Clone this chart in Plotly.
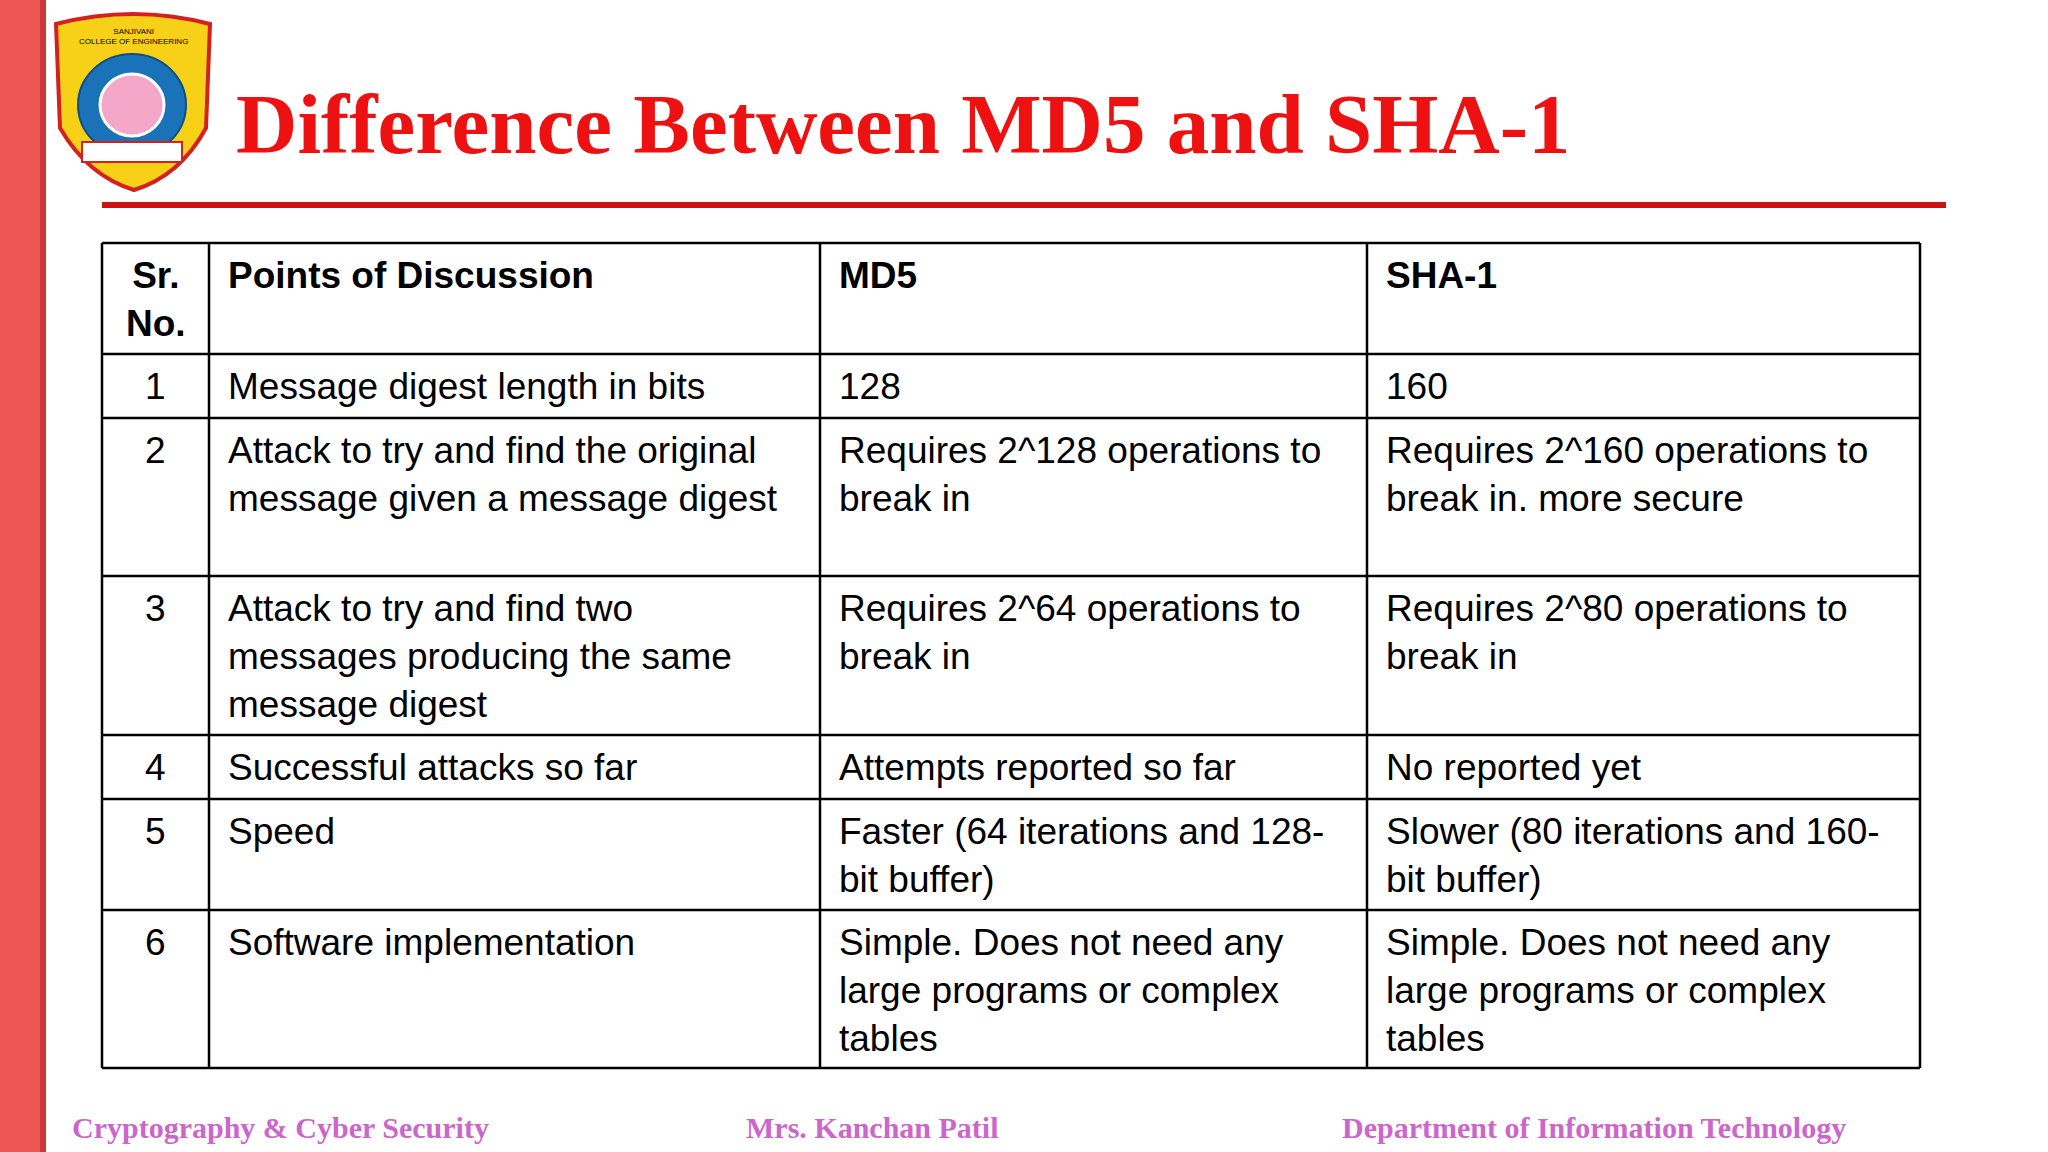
import plotly.graph_objects as go

# table content
headers = ["Sr.<br>No.", "Points of Discussion", "MD5", "SHA-1"]
sr_no = ["1", "2", "3", "4", "5", "6"]
points = [
    "Message digest length in bits",
    "Attack to try and find the original<br>message given a message digest",
    "Attack to try and find two<br>messages producing the same<br>message digest",
    "Successful attacks so far",
    "Speed",
    "Software implementation",
]
md5 = [
    "128",
    "Requires 2^128 operations to<br>break in",
    "Requires 2^64 operations to<br>break in",
    "Attempts reported so far",
    "Faster (64 iterations and 128-<br>bit buffer)",
    "Simple. Does not need any<br>large programs or complex<br>tables",
]
sha1 = [
    "160",
    "Requires 2^160 operations to<br>break in. more secure",
    "Requires 2^80 operations to<br>break in",
    "No reported yet",
    "Slower (80 iterations and 160-<br>bit buffer)",
    "Simple. Does not need any<br>large programs or complex<br>tables",
]
footer = ["Cryptography & Cyber Security", "Mrs. Kanchan Patil", "Department of Information Technology"]

# layout geometry (pixels)
col_x = [102, 209, 820, 1367, 1920]
row_y = [243, 354, 418, 576, 735, 799, 910, 1068]

fig = go.Figure()
shapes = []
ann = []

# left red bar
shapes.append(dict(type="rect", x0=0, x1=46, y0=0, y1=1152, fillcolor="#f05555", line_width=0, layer="below"))
shapes.append(dict(type="rect", x0=40, x1=46, y0=0, y1=1152, fillcolor="#c83a3a", line_width=0, layer="below"))

# logo (simplified shield)
shapes.append(dict(type="path", path="M 56 24 Q 133 4 210 24 L 206 128 Q 180 176 134 190 Q 88 176 60 128 Z",
                   fillcolor="#f7d117", line=dict(color="#d42020", width=4)))
shapes.append(dict(type="circle", x0=78, x1=186, y0=54, y1=156, fillcolor="#1a73b8", line=dict(color="#0d4f87", width=2)))
shapes.append(dict(type="circle", x0=100, x1=164, y0=74, y1=136, fillcolor="#f4a7c9", line=dict(color="#ffffff", width=3)))
shapes.append(dict(type="rect", x0=82, x1=182, y0=142, y1=162, fillcolor="#ffffff", line=dict(color="#d42020", width=2)))
ann.append(dict(x=133, y=36, text="SANJIVANI<br>COLLEGE OF ENGINEERING", showarrow=False,
                font=dict(family="Liberation Sans", size=8, color="#000"), xanchor="center", yanchor="middle"))

# title and rule
ann.append(dict(x=234, y=124, text="<b>Difference Between MD5 and SHA-1</b>", showarrow=False,
                font=dict(family="Liberation Serif", size=85, color="#ee1111"), xanchor="left", yanchor="middle"))
shapes.append(dict(type="line", x0=102, x1=1946, y0=205, y1=205, line=dict(color="#cc1111", width=6)))

# table grid
for x in col_x:
    shapes.append(dict(type="line", x0=x, x1=x, y0=row_y[0], y1=row_y[-1], line=dict(color="#000", width=2.5)))
for y in row_y:
    shapes.append(dict(type="line", x0=col_x[0], x1=col_x[-1], y0=y, y1=y, line=dict(color="#000", width=2.5)))

font = dict(family="Liberation Sans", size=37, color="#000")
pad_y = 10
pad_x = 17

# header
for i, h in enumerate(headers):
    if i == 0:
        ann.append(dict(x=(col_x[0] + col_x[1]) / 2, y=row_y[0] + pad_y, text="<b>" + h + "</b>", showarrow=False,
                        font=font, xanchor="center", yanchor="top", align="center"))
    else:
        ann.append(dict(x=col_x[i] + pad_x, y=row_y[0] + pad_y, text="<b>" + h + "</b>", showarrow=False,
                        font=font, xanchor="left", yanchor="top", align="left"))

# body
for r in range(len(sr_no)):
    top = row_y[r + 1] + pad_y
    ann.append(dict(x=(col_x[0] + col_x[1]) / 2, y=top, text=sr_no[r], showarrow=False,
                    font=font, xanchor="center", yanchor="top"))
    for c, col in enumerate([points, md5, sha1]):
        ann.append(dict(x=col_x[c + 1] + pad_x, y=top, text=col[r], showarrow=False,
                        font=font, xanchor="left", yanchor="top", align="left"))

# footer
foot_font = dict(family="Liberation Serif", size=30, color="#cc66cc")
for x, t in zip([70, 744, 1340], footer):
    ann.append(dict(x=x, y=1127, text="<b>" + t + "</b>", showarrow=False, font=foot_font,
                    xanchor="left", yanchor="middle"))

fig.update_layout(
    width=2048, height=1152,
    margin=dict(l=0, r=0, t=0, b=0),
    paper_bgcolor="white", plot_bgcolor="white",
    xaxis=dict(range=[0, 2048], visible=False, fixedrange=True),
    yaxis=dict(range=[1152, 0], visible=False, fixedrange=True),
    shapes=shapes, annotations=ann, showlegend=False,
)

fig.write_html("out.html", config={"displayModeBar": False},
               post_script="document.body.style.margin='0';")
